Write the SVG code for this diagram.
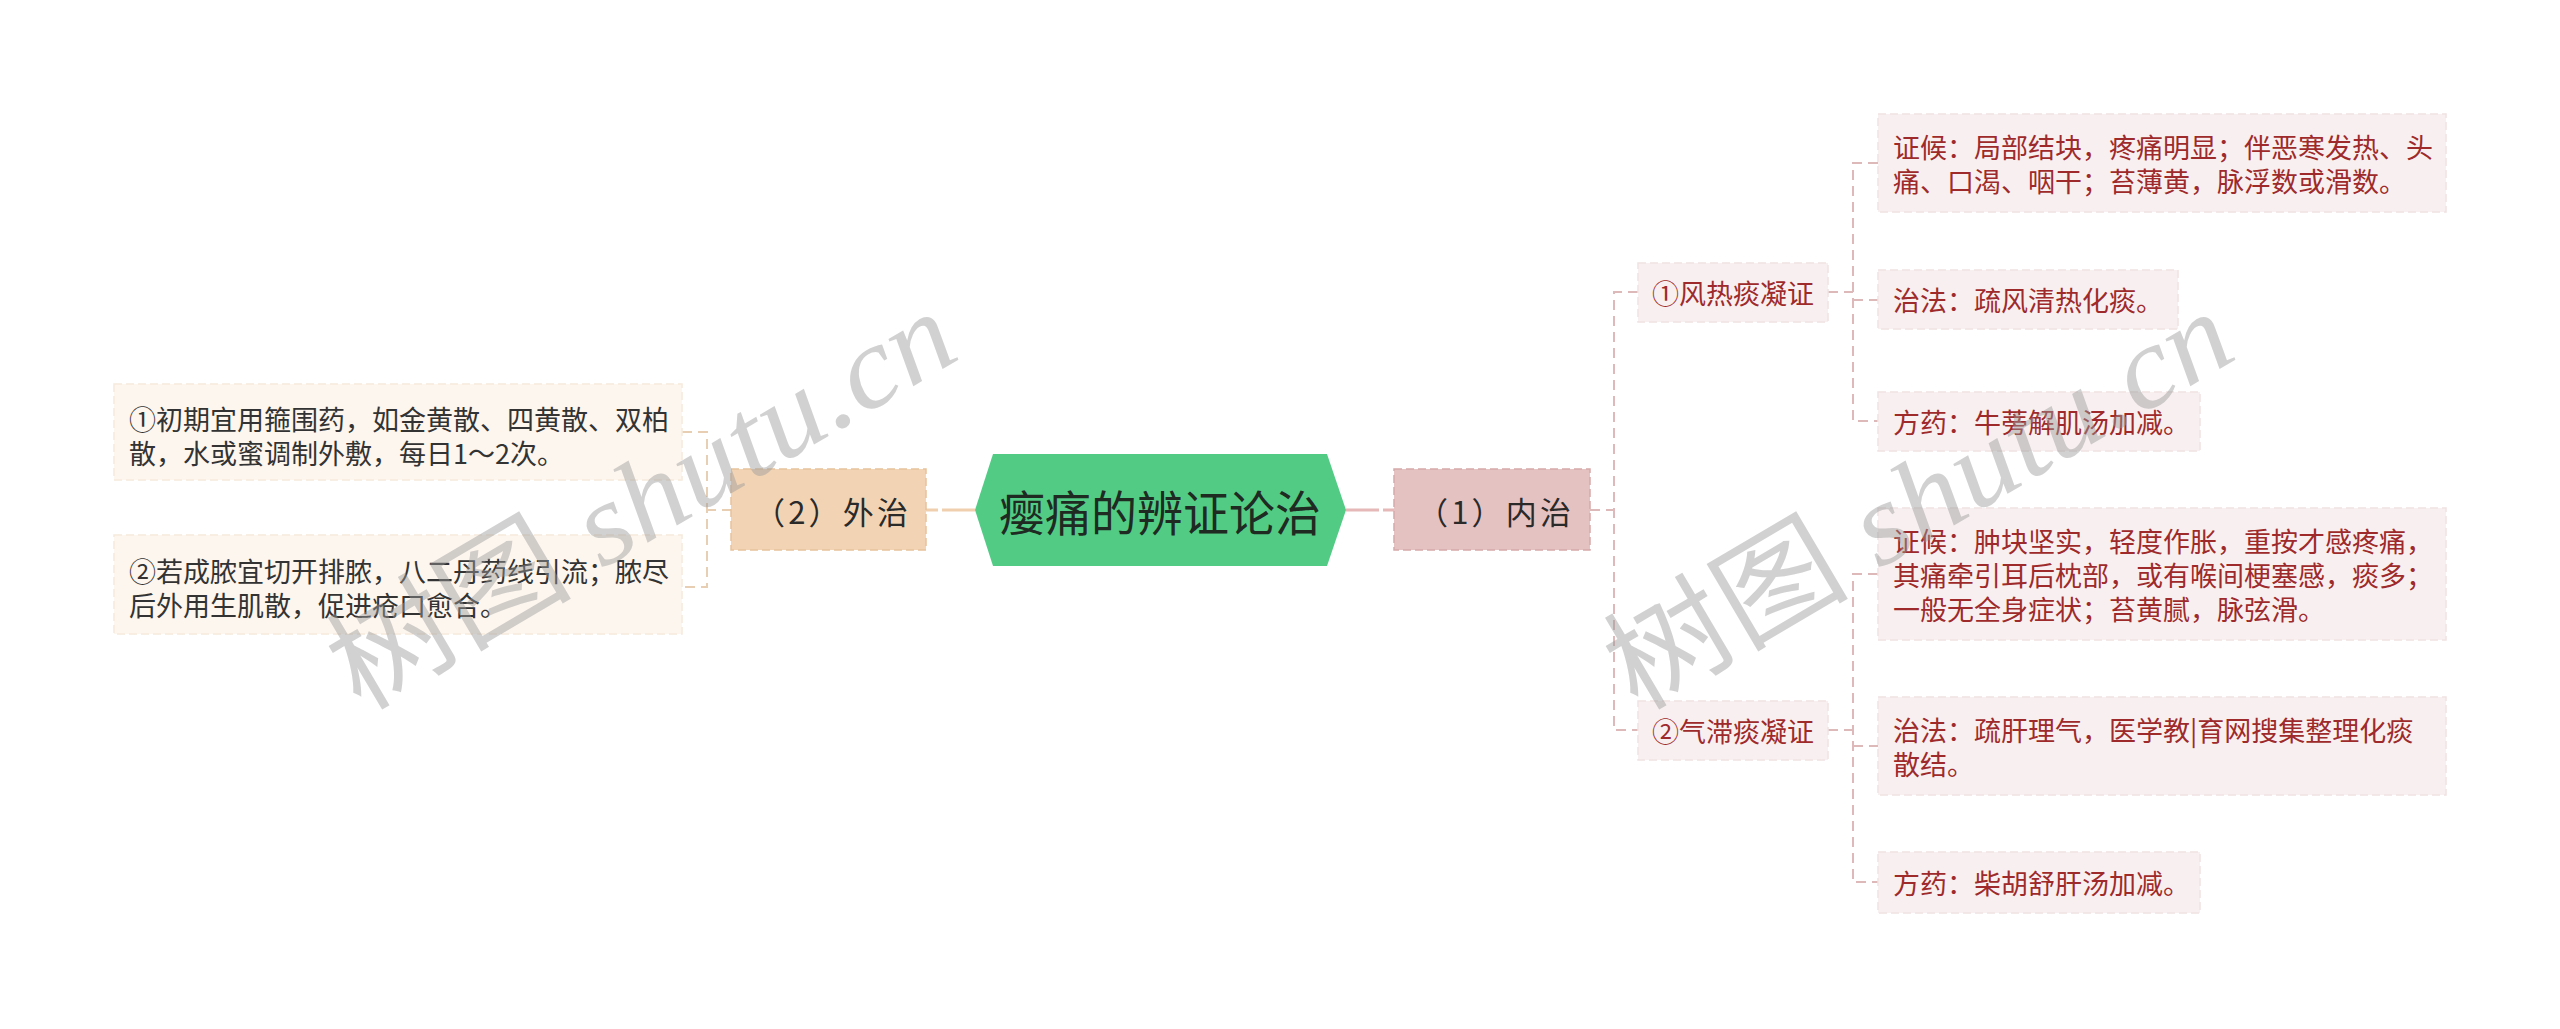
<svg xmlns="http://www.w3.org/2000/svg" width="2560" height="1029" viewBox="0 0 2560 1029">
<style>
text{font-family:"Noto Sans CJK SC","Noto Sans",sans-serif;}
.leafL rect{fill:#FDF6EE;stroke:#F6EADC;stroke-width:1.5;stroke-dasharray:8 4;}
.leafR rect{fill:#F8F0F0;stroke:#F0E2E2;stroke-width:1.5;stroke-dasharray:8 4;}
.leafL text{font-size:27px;fill:#333333;dominant-baseline:central;}
.leafR text{font-size:27px;fill:#9E2A2B;dominant-baseline:central;}
.sub rect{fill:#F8F0F0;stroke:#F0E2E2;stroke-width:1.5;stroke-dasharray:8 4;}
.sub text{font-size:27px;fill:#9E2A2B;dominant-baseline:central;text-anchor:middle;}
.lvl1 text{font-size:31px;fill:#2a2a2a;dominant-baseline:central;}
.cL{fill:none;stroke:#E8CFB3;stroke-width:2;stroke-dasharray:10 6;}
.cR{fill:none;stroke:#DDB9B9;stroke-width:2;stroke-dasharray:10 6;}
.wm{font-family:"Liberation Serif","Noto Sans CJK SC",serif;fill:#9a9a9a;opacity:0.45;}
</style>

<g id="connectors">
  <line x1="975" y1="510" x2="926" y2="510" stroke="#F0CFAE" stroke-width="3" stroke-dasharray="33 4"/>
  <line x1="1346" y1="510" x2="1394" y2="510" stroke="#E6B8B8" stroke-width="3" stroke-dasharray="33 4"/>
  <path class="cL" d="M732 510 H707 M682 432 H707 V587 H682"/>
  <path class="cR" d="M1590 510 H1614 M1638 292 H1614 V730 H1638"/>
  <path class="cR" d="M1828 292 H1853 M1878 163 H1853 V421 H1878 M1853 300 H1878"/>
  <path class="cR" d="M1828 730 H1853 M1878 574 H1853 V882 H1878 M1853 746 H1878"/>
</g>

<g id="root">
  <polygon points="975,510 993,454 1327,454 1346,510 1327,566 993,566" fill="#52CC84"/>
  <text x="1160" y="510" font-size="48" fill="#1f2a22" text-anchor="middle" dominant-baseline="central" textLength="322" lengthAdjust="spacingAndGlyphs">瘿痛的辨证论治</text>
</g>

<g id="n-neizhi" class="lvl1">
  <rect x="1394" y="469" width="196" height="81" fill="#E5C2C2" stroke="#D6A9A9" stroke-width="1.5" stroke-dasharray="8 4"/>
  <text x="1417" y="510" textLength="154" lengthAdjust="spacing">（1）内治</text>
</g>

<g id="n-waizhi" class="lvl1">
  <rect x="731" y="469" width="195" height="81" fill="#F2D4B4" stroke="#E6C29C" stroke-width="1.5" stroke-dasharray="8 4"/>
  <text x="754" y="510" textLength="154" lengthAdjust="spacing">（2）外治</text>
</g>

<g id="n-w1" class="leafL">
  <rect x="114" y="384" width="568" height="96"/>
  <text x="129" y="418">①初期宜用箍围药，如金黄散、四黄散、双柏</text>
  <text x="129" y="452">散，水或蜜调制外敷，每日1～2次。</text>
</g>

<g id="n-w2" class="leafL">
  <rect x="114" y="535" width="568" height="99"/>
  <text x="129" y="570">②若成脓宜切开排脓，八二丹药线引流；脓尽</text>
  <text x="129" y="604">后外用生肌散，促进疮口愈合。</text>
</g>

<g id="n-fengre" class="sub">
  <rect x="1638" y="263" width="190" height="59"/>
  <text x="1733" y="292">①风热痰凝证</text>
</g>

<g id="n-qizhi" class="sub">
  <rect x="1638" y="701" width="190" height="59"/>
  <text x="1733" y="730">②气滞痰凝证</text>
</g>

<g id="n-a" class="leafR">
  <rect x="1878" y="114" width="568" height="98"/>
  <text x="1893" y="146">证候：局部结块，疼痛明显；伴恶寒发热、头</text>
  <text x="1893" y="180">痛、口渴、咽干；苔薄黄，脉浮数或滑数。</text>
</g>

<g id="n-b" class="leafR">
  <rect x="1878" y="270" width="300" height="59"/>
  <text x="1893" y="299">治法：疏风清热化痰。</text>
</g>

<g id="n-c" class="leafR">
  <rect x="1878" y="392" width="322" height="59"/>
  <text x="1893" y="421">方药：牛蒡解肌汤加减。</text>
</g>

<g id="n-d" class="leafR">
  <rect x="1878" y="508" width="568" height="132"/>
  <text x="1893" y="540">证候：肿块坚实，轻度作胀，重按才感疼痛，</text>
  <text x="1893" y="574">其痛牵引耳后枕部，或有喉间梗塞感，痰多；</text>
  <text x="1893" y="608">一般无全身症状；苔黄腻，脉弦滑。</text>
</g>

<g id="n-e" class="leafR">
  <rect x="1878" y="697" width="568" height="98"/>
  <text x="1893" y="729">治法：疏肝理气，医学教|育网搜集整理化痰</text>
  <text x="1893" y="763">散结。</text>
</g>

<g id="n-f" class="leafR">
  <rect x="1878" y="852" width="322" height="61"/>
  <text x="1893" y="882">方药：柴胡舒肝汤加减。</text>
</g>

<g id="watermarks">
  <text class="wm" x="360" y="712" font-size="116" transform="rotate(-30.5 360 712)" textLength="700" lengthAdjust="spacingAndGlyphs">树图 <tspan font-style="italic">shutu.cn</tspan></text>
  <text class="wm" x="1637" y="712" font-size="116" transform="rotate(-30.5 1637 712)" textLength="700" lengthAdjust="spacingAndGlyphs">树图 <tspan font-style="italic">shutu.cn</tspan></text>
</g>
</svg>
